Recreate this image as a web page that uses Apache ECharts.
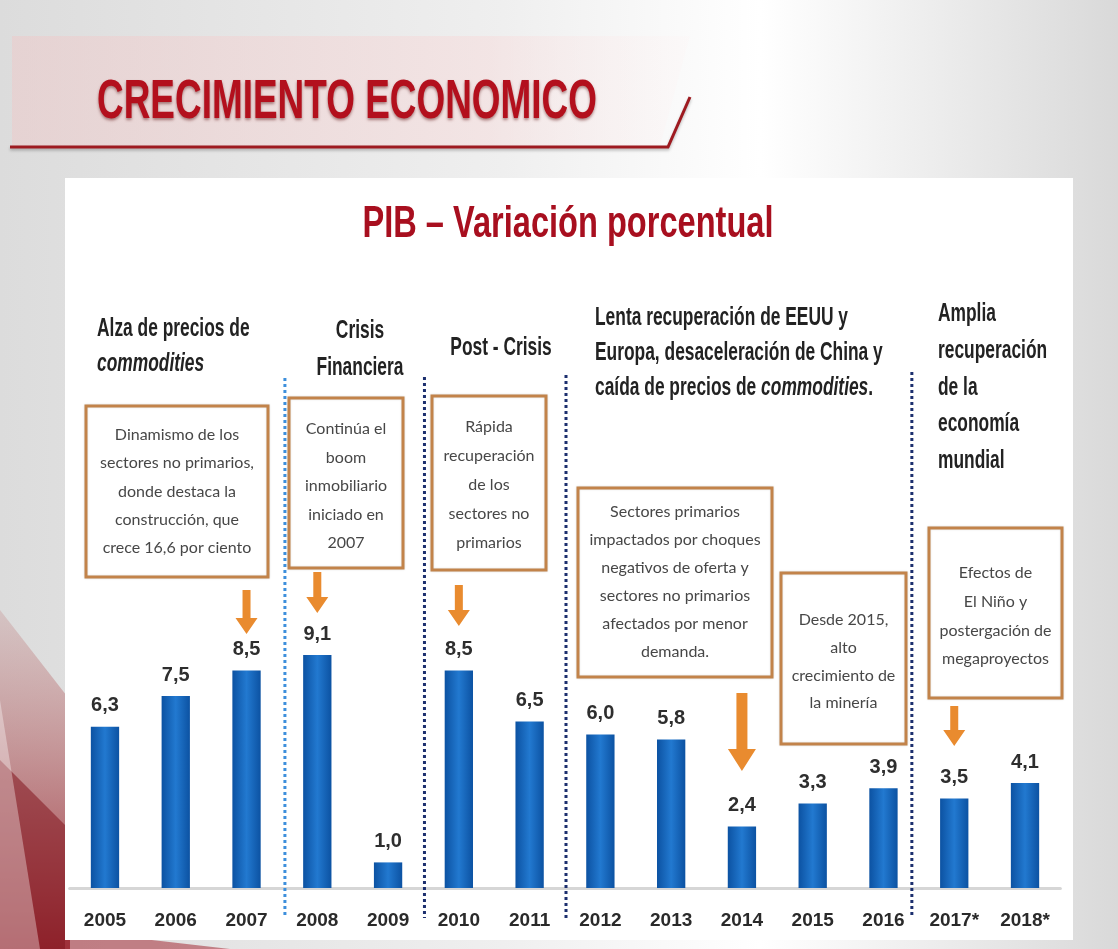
<!DOCTYPE html>
<html><head><meta charset="utf-8">
<script src="https://cdn.jsdelivr.net/npm/echarts@6/dist/echarts.min.js"></script>
<style>html,body{margin:0;padding:0;width:1118px;height:949px;overflow:hidden;background:#fff}#c{width:1118px;height:949px}</style>
</head><body><div id="c"></div>
<script>
// ---- data ----
const years = ['2005','2006','2007','2008','2009','2010','2011','2012','2013','2014','2015','2016','2017*','2018*'];
const gdp = [6.3, 7.5, 8.5, 9.1, 1.0, 8.5, 6.5, 6.0, 5.8, 2.4, 3.3, 3.9, 3.5, 4.1];
const separatorAfter = ['2007', '2009', '2011', '2016'];
const arrowYears = ['2007', '2008', '2010', '2014', '2017*'];
const titleText = 'CRECIMIENTO ECONOMICO';
const subtitleText = 'PIB – Variación porcentual';
const boxTexts = [
  'Dinamismo de los\nsectores no primarios,\ndonde destaca la\nconstrucción, que\ncrece 16,6 por ciento',
  'Continúa el\nboom\ninmobiliario\niniciado en\n2007',
  'Rápida\nrecuperación\nde los\nsectores no\nprimarios',
  'Sectores primarios\nimpactados por choques\nnegativos de oferta y\nsectores no primarios\nafectados por menor\ndemanda.',
  'Desde 2015,\nalto\ncrecimiento de\nla minería',
  'Efectos de\nEl Niño y\npostergación de\nmegaproyectos'
];

const SANS = '"Liberation Sans", Arial, sans-serif';
const BOXFONT = 'Lato, "Open Sans", sans-serif';

const mctx = document.createElement('canvas').getContext('2d');
function fitScale(text, font, target) { mctx.font = font; return target / mctx.measureText(text).width; }

const chart = echarts.init(document.getElementById('c'), null, {renderer: 'canvas'});

const barGrad = new echarts.graphic.LinearGradient(0, 0, 1, 0, [
  {offset: 0, color: '#0c52a2'},
  {offset: 0.5, color: '#2279d0'},
  {offset: 1, color: '#0c52a2'}
]);

chart.setOption({
  backgroundColor: 'transparent',
  animation: false,
  grid: {left: 69.6, right: 57.6, top: 376, bottom: 61},
  xAxis: {
    type: 'category',
    data: years,
    axisLine: {lineStyle: {color: '#d6d6d6', width: 3}},
    axisTick: {show: false},
    axisLabel: {interval: 0, color: '#2a2a2a', fontFamily: SANS, fontWeight: 'bold', fontSize: 19, margin: 23}
  },
  yAxis: {type: 'value', min: 0, max: 20, show: false, splitLine: {show: false}},
  series: [{
    type: 'bar',
    data: gdp,
    barWidth: '40%',
    itemStyle: {color: barGrad},
    label: {
      show: true, position: 'top', distance: 11,
      color: '#2e2e2e', fontFamily: SANS, fontWeight: 'bold', fontSize: 20,
      formatter: p => p.value.toFixed(1).replace('.', ',')
    },
    z: 5
  }]
});

const cx = y => chart.convertToPixel({xAxisIndex: 0}, years.indexOf(y));

const g = [];
// slide background
g.push({type: 'rect', id: 'bg', z: -20, shape: {x: 0, y: 0, width: 1118, height: 949},
  style: {fill: new echarts.graphic.LinearGradient(0, 0, 1, 0, [
    {offset: 0, color: '#dcdcdc'}, {offset: 0.45, color: '#efefef'},
    {offset: 0.68, color: '#ffffff'}, {offset: 0.85, color: '#ebebeb'}, {offset: 1, color: '#d9d9d9'}])}});
// red decoration bottom-left
g.push({type: 'polygon', id: 'red1', z: -19, shape: {points: [[0, 610], [70, 700], [70, 949], [0, 949]]},
  style: {fill: new echarts.graphic.LinearGradient(0, 0, 0, 1, [
    {offset: 0, color: 'rgba(190,120,120,0.25)'}, {offset: 1, color: 'rgba(150,30,40,0.9)'}])}});
g.push({type: 'polygon', id: 'red2', z: -19, shape: {points: [[0, 760], [70, 830], [70, 949], [0, 949]]},
  style: {fill: 'rgba(130,20,30,0.55)'}});
g.push({type: 'polygon', id: 'red3', z: -19, shape: {points: [[0, 700], [40, 949], [0, 949]]},
  style: {fill: 'rgba(255,255,255,0.35)'}});
g.push({type: 'polygon', id: 'red4', z: -19, shape: {points: [[65, 930], [230, 949], [65, 949]]},
  style: {fill: 'rgba(170,60,70,0.6)'}});
// title band
g.push({type: 'polygon', id: 'band', z: -18, shape: {points: [[12, 36], [690, 36], [660, 146], [12, 146]]},
  style: {fill: new echarts.graphic.LinearGradient(0, 0, 1, 0, [
    {offset: 0, color: 'rgba(238,200,200,0.5)'}, {offset: 0.7, color: 'rgba(246,220,220,0.55)'},
    {offset: 1, color: 'rgba(255,240,240,0.15)'}])}});
g.push({type: 'polyline', id: 'tline', z: -17, shape: {points: [[10, 147], [668, 147], [690, 97]]},
  style: {stroke: '#9e1a20', lineWidth: 3, fill: null, shadowColor: 'rgba(0,0,0,0.25)', shadowBlur: 3, shadowOffsetY: 2}});

const titleFont = 'bold 56px ' + SANS;
g.push({type: 'text', id: 'title', z: 50, x: 97, y: 103, scaleX: fitScale(titleText, titleFont, 500),
  style: {text: titleText, x: 0, y: 0, textVerticalAlign: 'middle',
  font: titleFont, fill: '#b3101d', textShadowColor: 'rgba(80,0,0,0.45)', textShadowBlur: 3, textShadowOffsetY: 2}});
// white panel
g.push({type: 'rect', id: 'panel', z: -15, shape: {x: 65, y: 178, width: 1008, height: 762}, style: {fill: '#ffffff'}});
const subFont = 'bold 44px ' + SANS;
g.push({type: 'text', id: 'sub', z: 50, x: 568, y: 225, scaleX: fitScale(subtitleText, subFont, 411),
  style: {text: subtitleText, x: 0, y: 0, textAlign: 'center', textVerticalAlign: 'middle', font: subFont, fill: '#a80f1f'}});

// section headings
const hFont = 'bold 26px ' + SANS;
const hScale = fitScale('Lenta recuperación de EEUU y', hFont, 253);
const headRich = {
  n: {font: hFont, fill: '#222', lineHeight: 35},
  i: {font: 'italic bold 26px ' + SANS, fill: '#222', lineHeight: 35}
};
function heading(id, text, x, y, align, lh) {
  const rich = lh ? {n: Object.assign({}, headRich.n, {lineHeight: lh}), i: headRich.i} : headRich;
  g.push({type: 'text', id: id, z: 50, x: x, y: y, scaleX: hScale,
    style: {text: text, x: 0, y: 0, textAlign: align || 'left', textVerticalAlign: 'top', rich: rich}});
}
heading('h1', '{n|Alza de precios de}\n{i|commodities}', 97, 311);
heading('h2', '{n|Crisis}\n{n|Financiera}', 360, 312, 'center', 37);
heading('h3', '{n|Post - Crisis}', 501, 330, 'center');
heading('h4', '{n|Lenta recuperación de EEUU y}\n{n|Europa, desaceleración de China y}\n{n|caída de precios de }{i|commodities}{n|.}', 595, 300);
heading('h5', '{n|Amplia}\n{n|recuperación}\n{n|de la}\n{n|economía}\n{n|mundial}', 938, 296, 'left', 36.6);

// separators
const sepColors = ['#3d8fdc', '#1c2f6e', '#1c2f6e', '#1c2f6e'];
const sepTop = [378, 377, 375, 372];
const sepShift = [3, 1, 1, -7];
separatorAfter.forEach((y, i) => {
  const k = years.indexOf(y);
  const x = (chart.convertToPixel({xAxisIndex: 0}, k) + chart.convertToPixel({xAxisIndex: 0}, k + 1)) / 2 + sepShift[i];
  g.push({type: 'line', id: 'sep' + i, z: 40, shape: {x1: x, y1: sepTop[i], x2: x, y2: 918},
    style: {stroke: sepColors[i], lineWidth: 3, lineDash: [3, 3]}});
});

// annotation boxes
const boxes = [
  [86, 406, 182, 171, 491.5, 28.3],
  [289, 398, 114, 170, 486, 28.5],
  [432, 396, 114, 174, 485, 29],
  [578, 488, 194, 189, 582, 28],
  [781, 573, 125, 171, 661.5, 27.7],
  [929, 528, 133, 170, 616, 28.7]
];
boxes.forEach((b, i) => {
  g.push({type: 'rect', id: 'box' + i, z: 45, shape: {x: b[0], y: b[1], width: b[2], height: b[3]},
    style: {fill: '#fff', stroke: '#c2834a', lineWidth: 3, shadowColor: 'rgba(0,0,0,0.15)', shadowBlur: 2}});
  g.push({type: 'text', id: 'bt' + i, z: 46, style: {text: boxTexts[i], x: b[0] + b[2] / 2, y: b[4],
    textAlign: 'center', textVerticalAlign: 'middle', font: '16px ' + BOXFONT, fill: '#474747', lineHeight: b[5]}});
});

// arrows
const arrowSpec = [ // y0, y1, shaft, headW, headH
  [590, 634, 8, 22, 16],
  [572, 613, 8, 22, 16],
  [585, 626, 8, 22, 16],
  [693, 771, 11, 28, 22],
  [706, 746, 8, 22, 16]
];
arrowYears.forEach((y, i) => {
  const x = cx(y);
  const [y0, y1, s, hw, hh] = arrowSpec[i];
  g.push({type: 'polygon', id: 'ar' + i, z: 45, shape: {points: [
    [x - s / 2, y0], [x + s / 2, y0], [x + s / 2, y1 - hh], [x + hw / 2, y1 - hh], [x, y1],
    [x - hw / 2, y1 - hh], [x - s / 2, y1 - hh]]},
    style: {fill: '#e98b2f'}});
});

chart.setOption({graphic: {elements: g}});
</script></body></html>
